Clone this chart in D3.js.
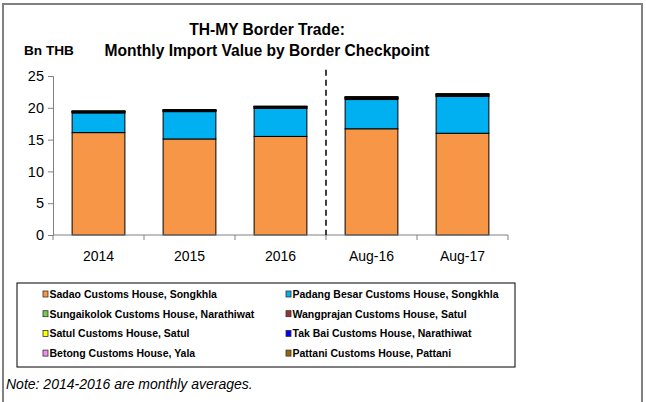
<!DOCTYPE html>
<html>
<head>
<meta charset="utf-8">
<script src="https://cdn.jsdelivr.net/npm/d3@7.9.0/dist/d3.min.js"></script>
<style>
  body { margin: 0; background: #fff; }
  svg { display: block; font-family: "Liberation Sans", Arial, sans-serif; }
</style>
</head>
<body>
<div id="chart"></div>
<script>
// categories and series (Bn THB)
const periods = ['2014', '2015', '2016', 'Aug-16', 'Aug-17'];
const checkpoints = [
    'Sadao Customs House, Songkhla',
    'Padang Besar Customs House, Songkhla',
    'Sungaikolok Customs House, Narathiwat',
    'Wangprajan Customs House, Satul',
    'Satul Customs House, Satul',
    'Tak Bai Customs House, Narathiwat',
    'Betong Customs House, Yala',
    'Pattani Customs House, Pattani'
];
const sadao       = [16.1, 15.1, 15.5, 16.7, 16.0];
const padangBesar = [3.1, 4.3, 4.4, 4.6, 5.8];
const sungaikolok = [0.05, 0.05, 0.05, 0.15, 0.05];
const wangprajan  = [0.12, 0.12, 0.15, 0.10, 0.15];
const satul       = [0.02, 0.02, 0.02, 0.02, 0.02];
const takBai      = [0.06, 0.06, 0.06, 0.08, 0.10];
const betong      = [0.01, 0.01, 0.01, 0.01, 0.01];
const pattani     = [0.06, 0.06, 0.08, 0.10, 0.10];
const yTicks = [0, 5, 10, 15, 20, 25];

const colors = ['#f79646', '#00b0f0', '#7cc750', '#993333', '#ffff00', '#0000ff', '#f08ef0', '#996600'];
const seriesValues = [sadao, padangBesar, sungaikolok, wangprajan, satul, takBai, betong, pattani];

const width = 646;
const height = 402;

const svg = d3.select('#chart')
    .append('svg')
    .attr('width', width)
    .attr('height', height);

// outer frame (bottom edge falls outside the picture)
svg.append('rect')
    .attr('x', 3).attr('y', 4)
    .attr('width', 639).attr('height', 410)
    .attr('fill', 'none')
    .attr('stroke', '#808080')
    .attr('stroke-width', 2);

const margin = { top: 76, right: 138, bottom: 167, left: 53 };
const area = {
    left: margin.left,
    right: width - margin.right,
    top: margin.top,
    bottom: height - margin.bottom
};

const table = periods.map((p, i) => {
    const row = { period: p };
    checkpoints.forEach((c, j) => { row[c] = seriesValues[j][i]; });
    return row;
});

const stacked = d3.stack().keys(checkpoints)(table);

const xScale = d3.scaleBand()
    .domain(periods)
    .range([area.left, area.right])
    .paddingInner(0.42)
    .paddingOuter(0.21);

const yScale = d3.scaleLinear()
    .domain([0, 25])
    .range([area.bottom, area.top]);

// title
const title = svg.append('text')
    .attr('text-anchor', 'middle')
    .attr('font-weight', 'bold')
    .attr('font-size', 15.6)
    .attr('fill', '#000');
title.append('tspan').attr('x', 267).attr('y', 35).text('TH-MY Border Trade:');
title.append('tspan').attr('x', 267).attr('y', 56).text('Monthly Import Value by Border Checkpoint');

svg.append('text')
    .attr('x', 24).attr('y', 55)
    .attr('font-weight', 'bold')
    .attr('font-size', 13.6)
    .text('Bn THB');

// bars
svg.append('g')
    .selectAll('g')
    .data(stacked)
    .join('g')
    .attr('fill', (d, i) => colors[i])
    .selectAll('rect')
    .data(d => d)
    .join('rect')
    .attr('x', d => xScale(d.data.period))
    .attr('y', d => yScale(d[1]))
    .attr('width', xScale.bandwidth())
    .attr('height', d => yScale(d[0]) - yScale(d[1]))
    .attr('stroke', '#000')
    .attr('stroke-width', 1);

// y axis
const yAxis = svg.append('g')
    .attr('transform', `translate(${area.left},0)`)
    .call(d3.axisLeft(yScale).tickValues(yTicks).tickSize(5).tickPadding(4));
yAxis.select('.domain').attr('stroke', '#808080');
yAxis.selectAll('.tick line').attr('stroke', '#808080');
yAxis.selectAll('.tick text')
    .attr('font-size', 14.5)
    .attr('fill', '#000')
    .attr('font-family', '"Liberation Sans", Arial, sans-serif');

// x axis: line + ticks between categories
const step = xScale.step();
const half = step * xScale.paddingInner() / 2;
const bounds = periods.map(p => xScale(p) - half);
bounds.push(xScale(periods[periods.length - 1]) + xScale.bandwidth() + half);

const xAxis = svg.append('g').attr('class', 'x-axis');
xAxis.append('line')
    .attr('x1', area.left).attr('x2', area.right)
    .attr('y1', area.bottom).attr('y2', area.bottom)
    .attr('stroke', '#808080');
xAxis.selectAll('line.tick')
    .data(bounds)
    .join('line')
    .attr('class', 'tick')
    .attr('x1', d => d).attr('x2', d => d)
    .attr('y1', area.bottom).attr('y2', area.bottom + 5)
    .attr('stroke', '#808080');
xAxis.selectAll('text')
    .data(periods)
    .join('text')
    .attr('x', d => xScale(d) + xScale.bandwidth() / 2)
    .attr('y', area.bottom + 26)
    .attr('text-anchor', 'middle')
    .attr('font-size', 14)
    .text(d => d);

// dashed separator between annual averages and monthly values
const sepX = bounds[3];
svg.append('line')
    .attr('x1', sepX).attr('x2', sepX)
    .attr('y1', yScale(26)).attr('y2', area.bottom)
    .attr('stroke', '#000')
    .attr('stroke-width', 1.5)
    .attr('stroke-dasharray', '6,4');

// legend
const legend = svg.append('g');
legend.append('rect')
    .attr('x', 17).attr('y', 283)
    .attr('width', 498).attr('height', 84)
    .attr('fill', '#fff')
    .attr('stroke', '#000')
    .attr('stroke-width', 1);

const items = legend.selectAll('g.item')
    .data(checkpoints)
    .join('g')
    .attr('class', 'item')
    .attr('transform', (d, i) => `translate(${i % 2 === 0 ? 43 : 286},${294 + Math.floor(i / 2) * 19.7})`);
items.append('rect')
    .attr('x', 0).attr('y', -3)
    .attr('width', 5).attr('height', 6)
    .attr('fill', (d, i) => colors[i])
    .attr('stroke', '#333')
    .attr('stroke-width', 0.8);
items.append('text')
    .attr('x', 6.5).attr('y', 4)
    .attr('font-size', 10.5)
    .attr('font-weight', 'bold')
    .text(d => d);

// note
svg.append('text')
    .attr('x', 6).attr('y', 389)
    .attr('font-size', 14)
    .attr('font-style', 'italic')
    .text('Note: 2014-2016 are monthly averages.');
</script>
</body>
</html>
